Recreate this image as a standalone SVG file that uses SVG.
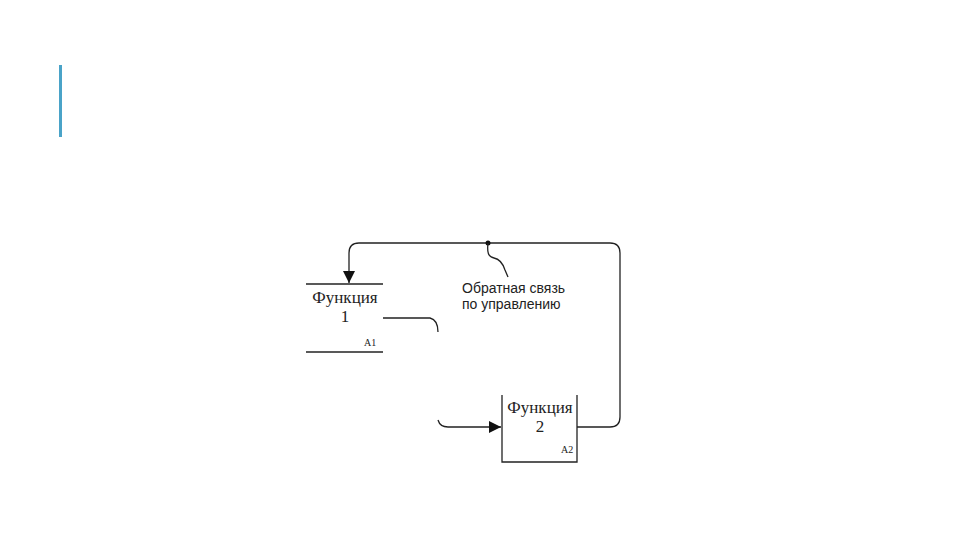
<svg xmlns="http://www.w3.org/2000/svg" width="960" height="540" viewBox="0 0 960 540">
<style>
.ln{fill:none;stroke:#222;stroke-width:1.3}
.fn{font-family:"Liberation Serif",serif;font-size:17px;fill:#222;text-anchor:middle}
.id{font-family:"Liberation Serif",serif;font-size:10px;fill:#222}
.lb{font-family:"Liberation Sans",Arial,sans-serif;font-size:14px;fill:#222}
</style>
<defs>
<marker id="ah" viewBox="0 0 12 12" refX="12" refY="6" markerWidth="12" markerHeight="12" markerUnits="userSpaceOnUse" orient="auto">
<path d="M0,0 L12,6 L0,12 Z" fill="#111"/>
</marker>
</defs>
<rect width="960" height="540" fill="#fff"/>
<rect x="59" y="65" width="3" height="72" fill="#4aa3c8"/>
<g id="node-f1">
<line class="ln" x1="306" y1="284" x2="383" y2="284"/>
<line class="ln" x1="306" y1="352" x2="383" y2="352"/>
<text class="fn" x="345" y="303">Функция</text>
<text class="fn" x="345" y="322">1</text>
<text class="id" x="364" y="346">A1</text>
</g>
<g id="node-f2">
<path class="ln" d="M502,395 V462 H577 V395"/>
<text class="fn" x="540" y="413">Функция</text>
<text class="fn" x="540" y="432">2</text>
<text class="id" x="561" y="453">A2</text>
</g>
<g id="connectors">
<path class="ln" d="M577,427 H610 Q620,427 620,417 V253 Q620,243 610,243 H359 Q349,243 349,253 V283" marker-end="url(#ah)"/>
<path class="ln" d="M383,318 H430 Q438,320 438,332"/>
<path class="ln" d="M438,420 Q440,427 448,427 H501" marker-end="url(#ah)"/>
<circle cx="488" cy="243" r="2.5" fill="#111"/>
<path class="ln" d="M488,243 C487,252 488,257 494,258 C500,259 503,264 505,270 L508,277" stroke-width="1"/>
</g>
<g id="label">
<text class="lb" x="462" y="293">Обратная связь</text>
<text class="lb" x="462" y="309">по управлению</text>
</g>
</svg>
